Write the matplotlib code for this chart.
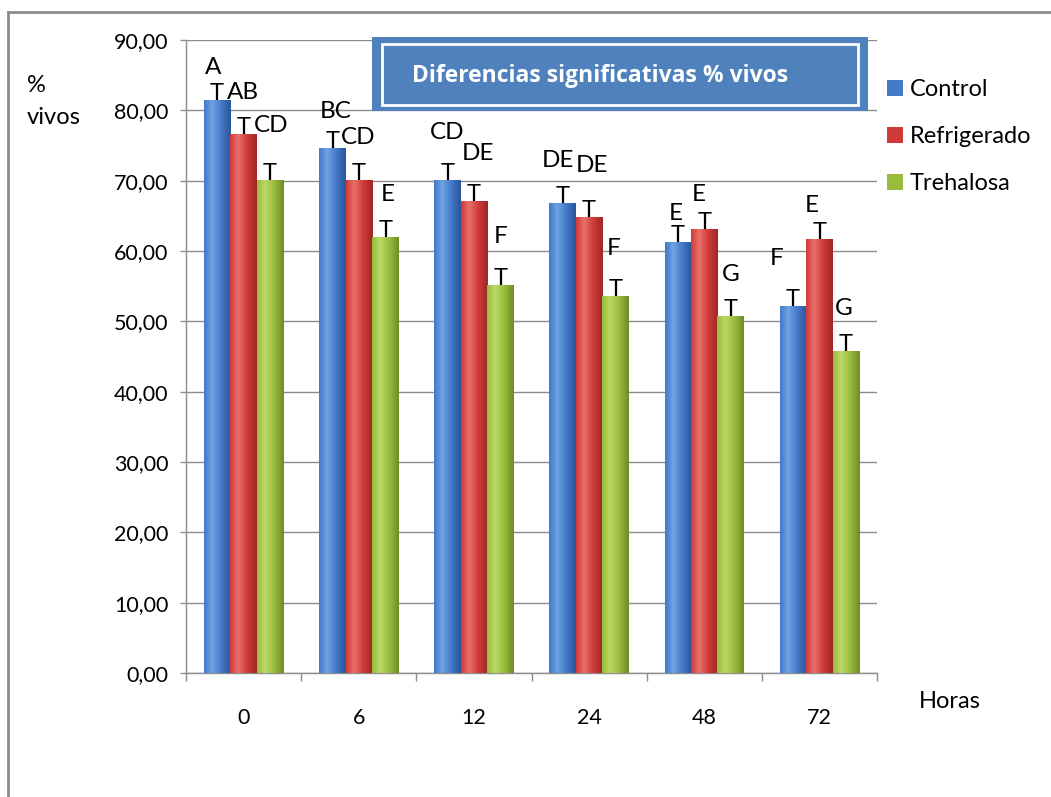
import numpy as np
import matplotlib.pyplot as plt
from matplotlib.patches import Rectangle, Patch
from matplotlib.colors import LinearSegmentedColormap

plt.rcParams['font.family'] = ['Lato', 'DejaVu Sans']

horas = ['0', '6', '12', '24', '48', '72']
series = ['Control', 'Refrigerado', 'Trehalosa']
control = [81.4, 74.6, 70.1, 66.8, 61.3, 52.2]
refrigerado = [76.6, 70.1, 67.1, 64.8, 63.1, 61.7]
trehalosa = [70.1, 62.0, 55.2, 53.6, 50.8, 45.8]

# letras de significancia, por serie y por hora
letras_control = ['A', 'BC', 'CD', 'DE', 'E', 'F']
letras_refrig = ['AB', 'CD', 'DE', 'DE', 'E', 'E']
letras_treh = ['CD', 'E', 'F', 'F', 'G', 'G']

# colocacion de las letras sobre cada barra (dy en unidades del eje, dx en pixeles)
dy_letras = [[4.7, 5.3, 6.7, 6.0, 4.1, 6.8],
             [6.0, 6.1, 6.8, 7.3, 5.0, 4.7],
             [7.8, 6.0, 6.8, 6.8, 5.8, 6.0]]
dx_letras = [[-4, 3, 0, -5, -2, -16],
             [-1, -1, 4, 3, -6, -8],
             [1, 3, 0, -2, 0, -2]]

# claro, medio, oscuro
colores = [('#6FA3E3', '#4279C9', '#2A5698'),
           ('#E8706C', '#CF3A38', '#9E2826'),
           ('#BDD965', '#98BC3C', '#6E8C26')]

W, H = 1051, 797
fig = plt.figure(figsize=(W / 100, H / 100), dpi=100)
ax = fig.add_axes([186 / W, 1 - 673 / H, (877 - 186) / W, (673 - 40) / H])

x = np.arange(len(horas))
ancho = 0.23
datos = [control, refrigerado, trehalosa]
letras = [letras_control, letras_refrig, letras_treh]

for i, (vals, cols) in enumerate(zip(datos, colores)):
    pos = x + (i - 1) * ancho
    barras = ax.bar(pos, vals, ancho, color=cols[1], zorder=3, linewidth=0)
    cmap = LinearSegmentedColormap.from_list(
        'g%d' % i, [(0, cols[1]), (0.3, cols[0]), (0.65, cols[1]), (1, cols[2])])
    grad = np.linspace(0, 1, 64).reshape(1, -1)
    for b in barras:
        im = ax.imshow(grad, cmap=cmap, aspect='auto', zorder=3.5,
                       extent=[b.get_x(), b.get_x() + b.get_width(), 0, b.get_height()])
        im.set_clip_path(b)
    for j, v in enumerate(vals):
        ax.text(pos[j], v, 'T', ha='center', va='baseline', fontsize=17, zorder=6)
        ax.annotate(letras[i][j], (pos[j], v + dy_letras[i][j]),
                    xytext=(dx_letras[i][j], 0), textcoords='offset pixels',
                    ha='center', va='center', fontsize=17.5, zorder=6)

ax.set_xlim(-0.5, len(horas) - 0.5)
ax.set_ylim(0, 90)
ax.set_yticks(np.arange(0, 91, 10))
ax.set_yticklabels([('%.2f' % v).replace('.', ',') for v in np.arange(0, 91, 10)])
ax.set_xticks(x)
ax.set_xticklabels(horas)
ax.set_xticks(np.arange(-0.5, len(horas), 1), minor=True)
ax.tick_params(axis='x', which='major', length=0, pad=25, labelsize=15.5)
ax.tick_params(axis='x', which='minor', length=6, width=1, color='#8c8c8c', direction='out')
ax.tick_params(axis='y', length=4.5, width=1, color='#8c8c8c', pad=8, labelsize=15.5)
ax.yaxis.grid(True, color='#8c8c8c', linewidth=1)
ax.set_axisbelow(True)
for s in ['top', 'right']:
    ax.spines[s].set_visible(False)
for s in ['left', 'bottom']:
    ax.spines[s].set_color('#8c8c8c')
    ax.spines[s].set_linewidth(1)

# rotulos de los ejes
fig.text(27 / W, 1 - 85 / H, '%', fontsize=17, va='center', ha='left')
fig.text(27 / W, 1 - 118 / H, 'vivos', fontsize=17, va='center', ha='left')
fig.text(950 / W, 1 - 701 / H, 'Horas', fontsize=17, va='center', ha='center')

# recuadro del titulo
fig.add_artist(Rectangle((372 / W, 1 - 111 / H), (868 - 372) / W, (111 - 37) / H,
                         transform=fig.transFigure, facecolor='#4F81BD',
                         edgecolor='none', zorder=5))
fig.add_artist(Rectangle((382 / W, 1 - 105 / H), (858 - 382) / W, (105 - 44) / H,
                         transform=fig.transFigure, facecolor='none',
                         edgecolor='white', linewidth=2, zorder=6))
fig.text(600 / W, 1 - 76 / H, 'Diferencias significativas % vivos', color='white',
         fontsize=16.5, fontweight='bold', family='Open Sans',
         ha='center', va='center', zorder=7)

# leyenda
manejadores = [Patch(facecolor=c[1], edgecolor='none') for c in colores]
fig.legend(manejadores, series, loc='upper left', bbox_to_anchor=(878 / W, 1 - 70 / H),
           frameon=False, fontsize=17, handlelength=0.65, handleheight=0.65,
           handletextpad=0.3, labelspacing=1.1, borderaxespad=0)

# marco exterior
fig.add_artist(plt.Line2D([8 / W, 8 / W], [0, 1 - 12 / H], transform=fig.transFigure,
                          color='#8c8c8c', linewidth=2))
fig.add_artist(plt.Line2D([8 / W, 1], [1 - 12 / H, 1 - 12 / H], transform=fig.transFigure,
                          color='#8c8c8c', linewidth=2))

fig.savefig('out.png', dpi=100)
